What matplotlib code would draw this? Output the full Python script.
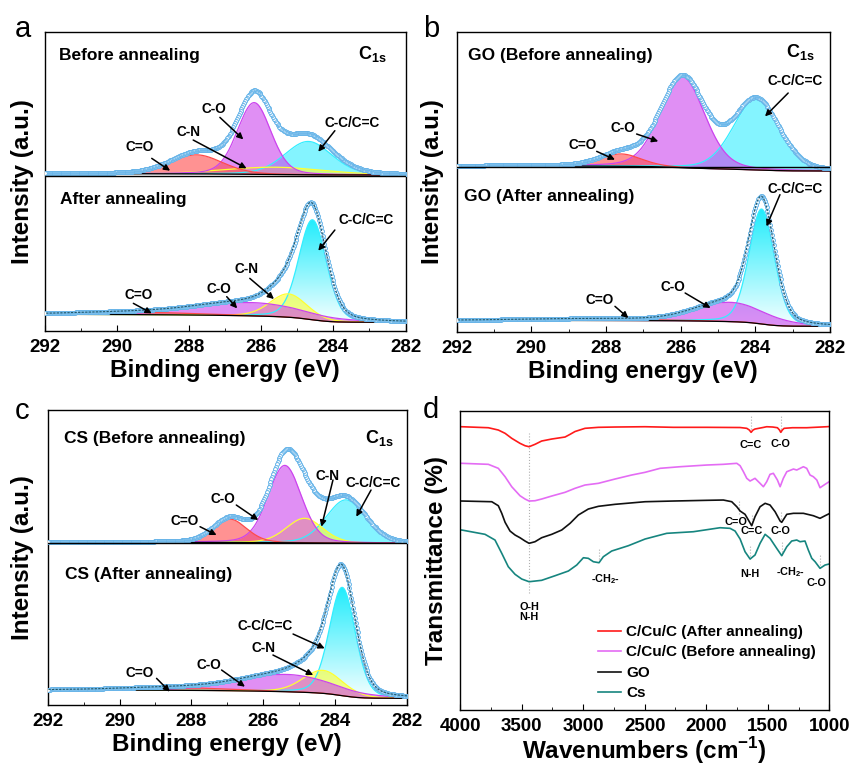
"""XPS C1s fits (a-c) and FTIR spectra (d) for the C/Cu/C film, GO and CS."""

import numpy as np
import matplotlib
matplotlib.use("Agg")
import matplotlib.pyplot as plt
from matplotlib.colors import LinearSegmentedColormap
from matplotlib.ticker import MultipleLocator

plt.rcParams["font.family"] = ["Liberation Sans", "DejaVu Sans"]
plt.rcParams["font.weight"] = "bold"
plt.rcParams["axes.labelweight"] = "bold"
plt.rcParams["mathtext.fontset"] = "custom"
plt.rcParams["mathtext.rm"] = "Liberation Sans:bold"
plt.rcParams["mathtext.bf"] = "Liberation Sans:bold"
plt.rcParams["axes.linewidth"] = 1.0

# ---------------------------------------------------------------- XPS data
# fitted components: name -> (centre eV, height a.u., FWHM eV)
a_before = {"C=O": (287.8, 57, 1.7), "C-N": (285.6, 22, 3.2),
            "C-O": (286.2, 215, 1.1), "C-C/C=C": (284.7, 100, 1.55)}
a_after = {"C=O": (289.5, 7, 4.0), "C-O": (286.3, 40, 3.4),
           "C-N": (285.25, 70, 1.2), "C-C/C=C": (284.58, 300, 0.9)}
b_before = {"C=O": (287.6, 37, 1.3), "C-O": (285.95, 272, 1.4),
            "C-C/C=C": (283.98, 211, 1.45)}
b_after = {"C=O": (288.5, 5, 4.0), "C-O": (284.68, 58, 2.2),
           "C-C/C=C": (283.83, 345, 0.8)}
c_before = {"C=O": (286.93, 70, 1.1), "C-O": (285.4, 232, 1.1),
            "C-N": (284.85, 74, 1.2), "C-C/C=C": (283.7, 130, 1.3)}
c_after = {"C=O": (288.5, 8, 3.5), "C-O": (285.35, 52, 3.0),
           "C-N": (284.34, 69, 1.3), "C-C/C=C": (283.8, 325, 0.85)}

# Shirley background level at 292 eV and at 282 eV
a_before_bg = (472, 468)
a_after_bg = (50, 26)
b_before_bg = (498, 483)
b_after_bg = (35, 17)
c_before_bg = (488, 485)
c_after_bg = (45, 20)

xps_ticks = [292, 290, 288, 286, 284, 282]

# --------------------------------------------------------------- FTIR data
red_wn = [4000, 3986, 3770, 3689, 3634, 3580, 3513, 3472, 3439, 3391, 3337,
          3255, 3147, 3106, 3066, 2985, 2876, 2741, 2497, 2267, 1996, 1725,
          1671, 1650, 1636, 1620, 1604, 1540, 1509, 1460, 1422, 1405, 1395,
          1382, 1368, 1300, 1184, 1021, 1000]
red_T = [283.3, 283.3, 282.3, 280.0, 276.7, 271.7, 266.7, 264.3, 263.3, 265.7,
         269.0, 271.0, 273.0, 275.7, 278.5, 281.7, 282.7, 283.0, 283.3, 282.7,
         282.7, 282.5, 281.7, 280.0, 277.7, 280.0, 281.0, 282.5, 283.3, 283.0,
         282.3, 280.0, 277.7, 280.0, 281.7, 282.3, 282.3, 283.3, 283.5]

violet_wn = [4000, 3986, 3770, 3689, 3634, 3580, 3513, 3472, 3439, 3391, 3337,
             3255, 3147, 3066, 2985, 2876, 2741, 2606, 2497, 2375, 2213, 1996,
             1861, 1752, 1725, 1698, 1671, 1644, 1604, 1563, 1536, 1509, 1482,
             1455, 1422, 1400, 1374, 1346, 1292, 1265, 1211, 1184, 1157, 1130,
             1102, 1076, 1035, 1002]
violet_T = [246.7, 246.7, 245.7, 241.7, 233.3, 223.3, 214.3, 211.0, 209.0,
            209.3, 211.0, 214.0, 217.7, 221.7, 225.0, 226.7, 231.0, 235.0,
            237.7, 241.7, 243.3, 245.0, 245.7, 246.7, 244.3, 238.3, 231.7,
            229.0, 231.7, 226.7, 223.3, 228.3, 235.7, 236.7, 230.0, 223.3,
            231.7, 238.3, 241.0, 240.0, 243.3, 241.7, 235.0, 233.3, 230.0,
            222.3, 225.7, 228.3]

go_wn = [4000, 3986, 3742, 3689, 3661, 3634, 3594, 3553, 3513, 3472, 3439,
         3391, 3337, 3255, 3174, 3106, 3039, 2958, 2876, 2741, 2497, 2267,
         1996, 1861, 1793, 1752, 1725, 1685, 1658, 1631, 1604, 1563, 1522,
         1482, 1441, 1400, 1387, 1346, 1292, 1211, 1130, 1076, 1035, 1002]
go_T = [209.0, 209.0, 208.3, 204.3, 196.7, 187.7, 179.0, 175.0, 172.3, 169.0,
        166.7, 168.3, 172.3, 175.7, 180.0, 186.7, 195.0, 201.0, 203.7, 205.7,
        208.3, 209.0, 209.7, 210.0, 208.3, 203.3, 199.0, 195.7, 190.0, 184.3,
        193.3, 203.3, 206.7, 205.0, 198.3, 189.0, 187.7, 195.7, 196.7, 196.7,
        194.3, 191.7, 194.3, 196.3]

cs_wn = [4000, 3986, 3797, 3716, 3661, 3608, 3553, 3499, 3439, 3337, 3228,
         3120, 3052, 2998, 2958, 2917, 2871, 2836, 2768, 2633, 2497, 2321,
         2105, 1888, 1807, 1766, 1725, 1685, 1644, 1604, 1563, 1522, 1482,
         1428, 1387, 1346, 1306, 1265, 1238, 1198, 1171, 1143, 1116, 1076,
         1035, 1002]
cs_T = [180.0, 180.0, 175.7, 170.0, 156.7, 143.3, 135.7, 131.0, 128.3, 129.7,
        134.3, 139.0, 145.0, 152.3, 151.7, 148.3, 147.3, 153.3, 159.0, 164.3,
        171.0, 176.7, 178.3, 182.3, 181.7, 179.0, 171.0, 158.3, 151.0, 155.0,
        166.7, 175.7, 171.7, 161.7, 154.3, 163.3, 169.0, 170.0, 168.3, 169.0,
        160.0, 151.7, 148.3, 141.7, 145.0, 146.0]

ftir_names = ["C/Cu/C (After annealing)", "C/Cu/C (Before annealing)", "GO", "Cs"]
ftir_colors = ["#ff1a1a", "#e46cf4", "#111111", "#16857f"]
ftir_ticks = [4000, 3500, 3000, 2500, 2000, 1500, 1000]

# band markers: (wavenumber, top, bottom) of the dotted guide
band_lines = [(3439, 277, 117), (1636, 295, 278), (1395, 295, 278),
              (1734, 210, 196), (1631, 195, 185), (1395, 198, 188),
              (1644, 165, 151), (1387, 168, 155), (1075, 155, 142),
              (2871, 162, 148)]
band_labels = [("O-H", 3439, 103), ("N-H", 3439, 93),
               ("C=C", 1636, 265), ("C-O", 1395, 266),
               ("C=O", 1758, 188), ("C=C", 1628, 179), ("C-O", 1400, 179),
               ("N-H", 1644, 136), ("-CH$_2$-", 1319, 138),
               ("C-O", 1102, 127), ("-CH$_2$-", 2822, 131)]

COMP_COLORS = {"C=O": "#ff4a4a", "C-N": "#ffff30", "C-O": "#cc44ee",
               "C-C/C=C": "#33eeff"}
CC_GRAD = LinearSegmentedColormap.from_list("cc", ["#f4ffff", "#20ecfc"])


def _peak(e, centre, height, fwhm):
    """Pseudo-Voigt (80 % Gaussian) line shape."""
    x2 = 4.0 * (e - centre) ** 2 / fwhm ** 2
    return height * (0.8 * np.exp(-np.log(2) * x2) + 0.2 / (1 + x2))


def draw_spectrum(ax, comps, bg_ends, after):
    e = np.arange(282.0, 292.0001, 0.025)
    prof = {k: _peak(e, *v) for k, v in comps.items()}
    total = sum(prof.values())
    cum = np.cumsum(total)
    bg = bg_ends[1] + (bg_ends[0] - bg_ends[1]) * cum / cum[-1]

    for name in ["C-C/C=C", "C-N", "C-O", "C=O"]:
        if name not in prof:
            continue
        col = COMP_COLORS[name]
        top = bg + prof[name]
        if name == "C-C/C=C" and after:
            poly = ax.fill_between(e, bg, top, facecolor="none", lw=0)
            grad = np.linspace(0, 1, 256).reshape(-1, 1)
            im = ax.imshow(grad, extent=[292, 282, bg.min(), top.max()],
                           origin="lower", aspect="auto", cmap=CC_GRAD,
                           zorder=1)
            im.set_clip_path(poly.get_paths()[0], transform=ax.transData)
        else:
            ax.fill_between(e, bg, top, color=col, alpha=0.6, lw=0, zorder=1)
        ax.plot(e, top, color=col, lw=0.9, zorder=2)

    ax.plot(e, bg, color="k", lw=0.9, zorder=3)
    ax.plot(e, bg + total, ls="none", marker="o", ms=2.8, mfc="white",
            mec="#62b2e8", mew=0.7, zorder=4)
    if after:
        ax.plot(e, bg + total, color="#24596a", lw=0.8, ls=(0, (2, 1.2)),
                zorder=5)


def annotate(ax, items):
    for text, (tx, ty), start, tip in items:
        ax.text(tx, ty, text, fontsize=9.8, ha="center", va="center", zorder=6)
        ax.annotate("", xy=tip, xytext=start, zorder=6,
                    arrowprops=dict(arrowstyle="-|>", color="k", lw=1.1,
                                    mutation_scale=9, shrinkA=0, shrinkB=0))


def style_xaxis(ax, ticks, minor):
    ax.set_xticks(ticks)
    ax.set_xticklabels([f"{t:g}" for t in ticks], fontsize=13.5,
                       fontweight="bold")
    ax.xaxis.set_minor_locator(MultipleLocator(minor))
    ax.tick_params(axis="x", which="both", direction="in", pad=6)
    ax.tick_params(axis="x", which="major", length=4)
    ax.tick_params(axis="x", which="minor", length=2.5)
    ax.set_yticks([])


def xps_axes(ax, ytop, divider, labelpad):
    ax.axhline(divider, color="k", lw=1.0, zorder=5)
    style_xaxis(ax, xps_ticks, 1)
    ax.set_xlim(292, 282)
    ax.set_ylim(0, ytop)
    ax.set_xlabel("Binding energy (eV)", fontsize=17.5, fontweight="bold",
                  labelpad=2)
    ax.set_ylabel("Intensity (a.u.)", fontsize=17.5, fontweight="bold",
                  labelpad=labelpad)


fig = plt.figure(figsize=(8.53, 7.68), dpi=100)
ax_a = fig.add_axes([0.0528, 0.569, 0.4226, 0.3897])
ax_b = fig.add_axes([0.5354, 0.5677, 0.4376, 0.3906])
ax_c = fig.add_axes([0.0559, 0.0820, 0.4212, 0.3841])
ax_d = fig.add_axes([0.5393, 0.0755, 0.4330, 0.3897])

# ---- a
draw_spectrum(ax_a, a_before, a_before_bg, False)
draw_spectrum(ax_a, a_after, a_after_bg, True)
xps_axes(ax_a, 898, 466, 8)
annotate(ax_a, [
    ("C=O", (289.38, 551), (289.04, 518), (288.53, 481)),
    ("C-N", (288.03, 598), (287.89, 573), (286.41, 488)),
    ("C-O", (287.31, 665), (287.15, 641), (286.5, 575)),
    ("C-C/C=C", (283.47, 625), (283.96, 601), (284.42, 538)),
    ("C=O", (289.41, 108), (289.55, 83), (289.04, 53)),
    ("C-O", (287.19, 125), (286.96, 103), (286.67, 68)),
    ("C-N", (286.41, 185), (286.32, 158), (285.65, 96)),
    ("C-C/C=C", (283.08, 333), (283.96, 303), (284.42, 241)),
])
ax_a.text(0.039, 0.922, "Before annealing", transform=ax_a.transAxes,
          fontsize=12.5, va="center")
ax_a.text(0.041, 0.438, "After annealing", transform=ax_a.transAxes,
          fontsize=12.5, va="center")
ax_a.text(0.868, 0.925, r"C$_{\mathbf{1s}}$", transform=ax_a.transAxes,
          fontsize=13, va="center")

# ---- b
draw_spectrum(ax_b, b_before, b_before_bg, False)
draw_spectrum(ax_b, b_after, b_after_bg, True)
xps_axes(ax_b, 900, 495, 9.5)
annotate(ax_b, [
    ("C=O", (288.63, 560), (288.25, 542), (287.76, 517)),
    ("C-O", (287.55, 612), (287.18, 594), (286.6, 572)),
    ("C-C/C=C", (282.94, 752), (283.12, 717), (283.74, 647)),
    ("C=O", (288.16, 97), (287.76, 77), (287.4, 42)),
    ("C-O", (286.22, 135), (285.88, 117), (285.2, 72)),
    ("C-C/C=C", (282.94, 430), (283.34, 412), (283.7, 317)),
])
ax_b.text(0.031, 0.923, "GO (Before annealing)", transform=ax_b.transAxes,
          fontsize=12.5, va="center")
ax_b.text(0.020, 0.451, "GO (After annealing)", transform=ax_b.transAxes,
          fontsize=12.5, va="center")
ax_b.text(0.882, 0.935, r"C$_{\mathbf{1s}}$", transform=ax_b.transAxes,
          fontsize=13, va="center")

# ---- c
draw_spectrum(ax_c, c_before, c_before_bg, False)
draw_spectrum(ax_c, c_after, c_after_bg, True)
xps_axes(ax_c, 885, 485, 10)
annotate(ax_c, [
    ("C=O", (288.18, 552), (287.76, 535), (287.3, 510)),
    ("C-O", (287.13, 618), (286.75, 600), (286.14, 555)),
    ("C-N", (284.2, 688), (284.06, 675), (284.38, 535)),
    ("C-C/C=C", (282.95, 665), (283.0, 645), (283.41, 565)),
    ("C=O", (289.45, 97), (288.97, 80), (288.6, 40)),
    ("C-O", (287.5, 120), (287.16, 105), (286.51, 55)),
    ("C-N", (286.0, 170), (285.73, 150), (284.61, 90)),
    ("C-C/C=C", (285.96, 237), (285.17, 213), (284.29, 170)),
])
ax_c.text(0.046, 0.904, "CS (Before annealing)", transform=ax_c.transAxes,
          fontsize=12.5, va="center")
ax_c.text(0.047, 0.443, "CS (After annealing)", transform=ax_c.transAxes,
          fontsize=12.5, va="center")
ax_c.text(0.883, 0.905, r"C$_{\mathbf{1s}}$", transform=ax_c.transAxes,
          fontsize=13, va="center")

# ---- d
for wn, t, name, col in zip([red_wn, violet_wn, go_wn, cs_wn],
                            [red_T, violet_T, go_T, cs_T],
                            ftir_names, ftir_colors):
    ax_d.plot(wn, t, color=col, lw=1.2, label=name)
for wn, t0, t1 in band_lines:
    ax_d.plot([wn, wn], [t1, t0], color="#b0b0b0", lw=0.8, ls=":", zorder=0)
for text, wn, t in band_labels:
    ax_d.text(wn, t, text, fontsize=7.8, ha="center", va="center")
style_xaxis(ax_d, ftir_ticks, 250)
ax_d.set_xlim(4000, 1000)
ax_d.set_ylim(0, 299.3)
ax_d.set_xlabel(r"Wavenumbers (cm$^{\mathbf{-1}}$)", fontsize=17.5,
                fontweight="bold", labelpad=0)
ax_d.set_ylabel("Transmittance (%)", fontsize=17.5, fontweight="bold",
                labelpad=8.5)
ax_d.legend(loc="upper left", bbox_to_anchor=(0.374, 0.284), frameon=False,
            prop={"size": 11, "weight": "bold"}, handlelength=1.5,
            handletextpad=0.35, labelspacing=0.42, borderpad=0,
            borderaxespad=0)

for ax, letter, x, y in [(ax_a, "a", 15, 37), (ax_b, "b", 423, 37),
                         (ax_c, "c", 15, 419), (ax_d, "d", 423, 418)]:
    fig.text(x / 853, 1 - y / 768, letter, fontsize=21, fontweight="normal",
             va="baseline")

fig.savefig("out.png", dpi=100)
